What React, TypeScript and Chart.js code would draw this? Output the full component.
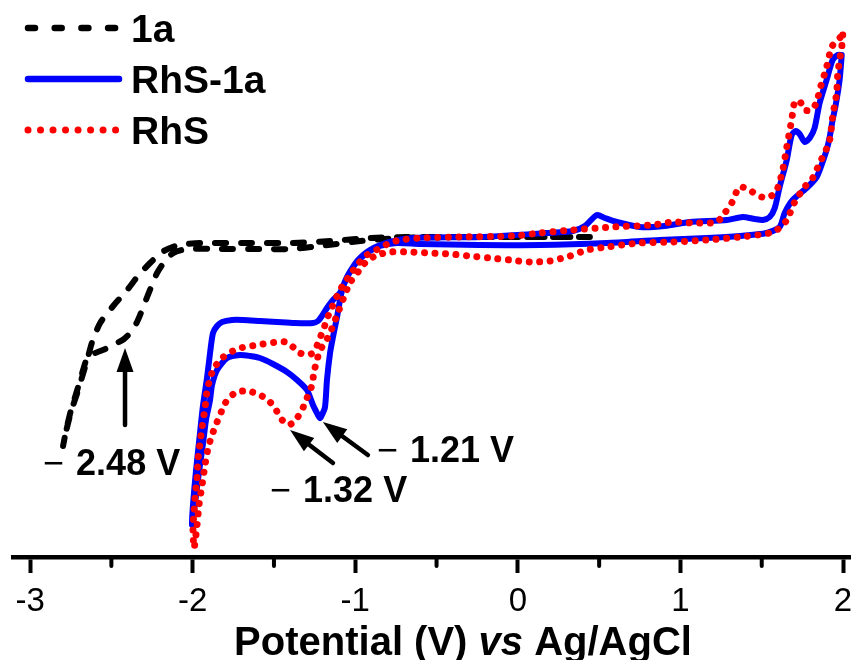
import React, { useEffect, useRef } from 'react';
import { Chart, registerables } from 'chart.js';

Chart.register(...registerables);

// ---------- data ----------
const seriesLabels = ['1a', 'RhS-1a', 'RhS'];
const seriesColors = ['#000000', '#0000ff', '#ff0000'];

// 1a (dashed): cathodic sweep to -2.8 V, then return
const x1a = [0.443, 0.258, -0.234, -0.645, -0.91, -1.155, -1.401, -1.647, -1.955, -2.034, -2.108, -2.188, -2.262, -2.336, -2.403, -2.489, -2.569, -2.618, -2.649, -2.68, -2.71, -2.741, -2.766, -2.784, -2.797,
  -2.778, -2.748, -2.71, -2.674, -2.643, -2.6, -2.538, -2.477, -2.422, -2.379, -2.342, -2.311, -2.28, -2.25, -2.219, -2.17, -2.12, -2.034, -1.832, -1.586, -1.401, -1.217, -0.91, -0.645, -0.234, 0.258, 0.443];
const y1a = [64, 64, 64, 64, 63.8, 63.2, 62.8, 62.8, 62.8, 62.6, 62.2, 61, 58.8, 56.2, 53.4, 50.2, 46.8, 43, 39.4, 36, 32.8, 29.8, 26.8, 24.4, 22.2,
  25.4, 29.4, 33.4, 37.4, 40.2, 40.8, 41.6, 42.6, 43.6, 45, 47, 49.4, 52, 54.4, 56.8, 59.2, 60.8, 61.6, 61.6, 61.6, 61.6, 62.2, 63.4, 63.9, 64, 64, 64];

// RhS-1a (solid)
const xRhS1a = [1.992, 1.979, 1.955, 1.936, 1.918, 1.899, 1.868, 1.838, 1.776, 1.69, 1.641, 1.61, 1.53, 1.364, 1.162, 0.873, 0.547, 0.135, -0.234, -0.602, -0.744, -0.848, -0.928, -1.014, -1.076, -1.112, -1.137, -1.155, -1.174, -1.186, -1.205, -1.217, -1.242, -1.26, -1.297, -1.358, -1.42, -1.506, -1.586, -1.647, -1.709, -1.788, -1.85, -1.881, -1.893, -1.918, -1.936, -1.955, -1.973, -1.991, -2.004,
  -1.998, -1.979, -1.955, -1.936, -1.911, -1.893, -1.875, -1.85, -1.819, -1.758, -1.69, -1.586, -1.481, -1.371, -1.26, -1.229, -1.205, -1.174, -1.137, -1.094, -1.063, -1.033, -0.983, -0.91, -0.787, -0.645, -0.234, 0.178, 0.338, 0.412, 0.486, 0.535, 0.608, 0.75, 0.903, 1.057, 1.285, 1.383, 1.457, 1.506, 1.549, 1.58, 1.61, 1.654, 1.684, 1.709, 1.733, 1.764, 1.795, 1.825, 1.856, 1.899, 1.936, 1.967, 1.992];
const yRhS1a = [100.4, 95.4, 90.4, 87.4, 84, 81.4, 78.4, 76, 73.8, 71.4, 68.8, 66, 64.8, 64.2, 63.8, 63.4, 62.8, 62.4, 62.4, 62.6, 62.8, 62.2, 60.8, 58, 54, 48, 44, 40.8, 35.4, 30, 28.4, 27.8, 29.2, 30.4, 33.4, 35.4, 37, 38.6, 39.8, 40.2, 40.4, 39.8, 37.4, 34.4, 31.4, 27.4, 22.8, 18.4, 14, 9.4, 6.4,
  10.4, 17.4, 24.8, 30.4, 36, 40.8, 44.8, 46.2, 47, 47.4, 47.4, 47.2, 47, 46.8, 46.8, 47.2, 48.2, 49.8, 51.4, 52.8, 55, 57, 59.4, 61.4, 63, 63.8, 64, 64.8, 65.2, 66.2, 68.4, 67.8, 67, 66, 66.2, 67, 67.4, 68, 67.6, 67.4, 68, 69.8, 74, 79.4, 84.4, 85.2, 84.6, 83, 83.8, 85.8, 90.8, 95.4, 99.4, 100.4, 100.4];

// RhS (dotted)
const xRhS = [1.998, 1.992, 1.979, 1.967, 1.961, 1.948, 1.936, 1.918, 1.887, 1.856, 1.813, 1.764, 1.703, 1.654, 1.61, 1.549, 1.364, 1.162, 0.953, 0.75, 0.547, 0.424, 0.32, 0.197, 0.074, -0.049, -0.172, -0.295, -0.418, -0.541, -0.664, -0.787, -0.879, -0.94, -0.983, -1.033, -1.069, -1.1, -1.131, -1.155, -1.186, -1.217, -1.235, -1.254, -1.266, -1.297, -1.328, -1.358, -1.395, -1.426, -1.463, -1.494, -1.537, -1.586, -1.635, -1.69, -1.739, -1.788, -1.819, -1.85, -1.881, -1.905, -1.924, -1.942, -1.961, -1.973, -1.991,
  -1.998, -1.991, -1.985, -1.973, -1.967, -1.955, -1.942, -1.924, -1.911, -1.893, -1.875, -1.819, -1.727, -1.604, -1.481, -1.432, -1.383, -1.34, -1.291, -1.254, -1.229, -1.205, -1.186, -1.162, -1.137, -1.106, -1.076, -1.033, -0.983, -0.928, -0.848, -0.787, -0.725, -0.602, -0.356, -0.031, 0.135, 0.338, 0.584, 0.83, 0.953, 1.076, 1.223, 1.272, 1.315, 1.364, 1.426, 1.469, 1.53, 1.567, 1.598, 1.629, 1.654, 1.684, 1.703, 1.733, 1.764, 1.807, 1.838, 1.856, 1.899, 1.93, 1.967, 1.998];
const yRhS = [104.4, 102, 99.4, 96.4, 92.8, 90.4, 88, 83.4, 80.8, 78.8, 75.8, 74, 71, 67.4, 65.8, 64.8, 64, 63.4, 63, 62.8, 62, 61.4, 60.2, 59.2, 59, 59.4, 59.8, 60.2, 60.6, 60.8, 61, 61, 60.2, 58.8, 57, 54.8, 52, 49.4, 46.8, 44.8, 42.8, 41.4, 39.4, 37, 34.4, 31.8, 29.4, 27.8, 26.6, 26.6, 28, 29.8, 31.4, 32.4, 33, 33.2, 32.8, 31.4, 29.4, 27, 24.4, 21.8, 18.4, 14.4, 10.4, 6.4, 1.8,
  5.4, 9.4, 12, 15.8, 19.4, 22.8, 26, 29.8, 33.4, 35.6, 37.4, 39.8, 41.6, 42.4, 43, 43, 42, 40.8, 40.4, 41, 42.8, 44.8, 46.4, 48.6, 50.4, 52.6, 54.4, 56.4, 58.6, 60.4, 61.8, 62.8, 63.4, 63.8, 64, 64.2, 64.8, 65.4, 66, 66.4, 67, 66.8, 67, 68.8, 70.8, 74, 73.4, 72.4, 71.8, 72.4, 73.8, 77.4, 82, 87.4, 91, 91.2, 89.4, 89.4, 91, 93.4, 98, 102, 103.4, 104.4];

const majorTicks = [-3, -2, -1, 0, 1, 2];
const minorTicks = [-2.5, -1.5, -0.5, 0.5, 1.5];

// peak annotations (data units)
const peakLabels = ['2.48 V', '1.21 V', '1.32 V'];
const peakSign = '\u2212';
const labelX = [-2.717, -0.664, -1.321];
const labelY = [16.4, 19, 11];
const arrowTailX = [-2.416, -0.922, -1.137];
const arrowTailY = [26.4, 20.4, 18.8];
const arrowTipX = [-2.416, -1.199, -1.401];
const arrowTipY = [41.8, 27, 25.4];

const titleParts = ['Potential (V) ', 'vs', ' Ag/AgCl'];

const FONT = '"Liberation Sans", Arial, Helvetica, sans-serif';

function toPoints(xs: number[], ys: number[]) {
  return xs.map((x, i) => ({ x, y: ys[i] }));
}

const legendDashes = [[7, 19.7], [], [0.01, 12.5]];
const legendWidths = [6.5, 6.5, 7];

const legendPlugin = {
  id: 'cvLegend',
  afterDraw(chart: any) {
    const ctx = chart.ctx;
    chart.data.datasets.forEach((ds: any, i: number) => {
      const yLine = 28 + i * 51;
      ctx.save();
      ctx.strokeStyle = ds.borderColor;
      ctx.lineWidth = legendWidths[i];
      ctx.lineCap = 'round';
      ctx.setLineDash(legendDashes[i]);
      ctx.beginPath();
      ctx.moveTo(28, yLine);
      ctx.lineTo(i === 2 ? 116 : 119, yLine);
      ctx.stroke();
      ctx.setLineDash([]);
      ctx.fillStyle = '#000';
      ctx.font = `bold 39px ${FONT}`;
      ctx.textBaseline = 'alphabetic';
      ctx.textAlign = 'left';
      ctx.fillText(ds.label, 131, yLine + 14);
      ctx.restore();
    });
  },
};

function drawArrow(ctx: CanvasRenderingContext2D, x1: number, y1: number, x2: number, y2: number) {
  const ang = Math.atan2(y2 - y1, x2 - x1);
  const headLen = 24;
  const headW = 8.5;
  const c = Math.cos(ang);
  const s = Math.sin(ang);
  const bx = x2 - headLen * c;
  const by = y2 - headLen * s;
  ctx.lineWidth = 4.5;
  ctx.lineCap = 'round';
  ctx.beginPath();
  ctx.moveTo(x1, y1);
  ctx.lineTo(bx + 2 * c, by + 2 * s);
  ctx.stroke();
  ctx.beginPath();
  ctx.moveTo(x2, y2);
  ctx.lineTo(bx - headW * s, by + headW * c);
  ctx.lineTo(bx + headW * s, by - headW * c);
  ctx.closePath();
  ctx.fill();
}

const decorPlugin = {
  id: 'cvDecor',
  afterDraw(chart: any) {
    const ctx = chart.ctx;
    const xs = chart.scales.x;
    const ys = chart.scales.y;
    const area = chart.chartArea;
    ctx.save();
    // minor ticks
    ctx.strokeStyle = '#000';
    ctx.lineWidth = 4;
    ctx.lineCap = 'round';
    minorTicks.forEach((v) => {
      const px = xs.getPixelForValue(v);
      ctx.beginPath();
      ctx.moveTo(px, area.bottom);
      ctx.lineTo(px, area.bottom + 9);
      ctx.stroke();
    });
    // arrows
    ctx.fillStyle = '#000';
    for (let i = 0; i < peakLabels.length; i++) {
      drawArrow(
        ctx,
        xs.getPixelForValue(arrowTailX[i]),
        ys.getPixelForValue(arrowTailY[i]),
        xs.getPixelForValue(arrowTipX[i]),
        ys.getPixelForValue(arrowTipY[i])
      );
    }
    // labels
    ctx.textBaseline = 'alphabetic';
    ctx.textAlign = 'left';
    for (let i = 0; i < peakLabels.length; i++) {
      const px = xs.getPixelForValue(labelX[i]);
      const py = ys.getPixelForValue(labelY[i]);
      ctx.font = `36px ${FONT}`;
      ctx.fillText(peakSign, px - 33, py);
      ctx.font = `bold 36px ${FONT}`;
      ctx.fillText(peakLabels[i], px, py);
    }
    // axis title with italic "vs"
    const fonts = [`bold 40px ${FONT}`, `italic bold 40px ${FONT}`, `bold 40px ${FONT}`];
    const widths = titleParts.map((t, i) => {
      ctx.font = fonts[i];
      return ctx.measureText(t).width;
    });
    const total = widths.reduce((a, b) => a + b, 0);
    let tx = (area.left + area.right) / 2 + 31 - total / 2;
    titleParts.forEach((t, i) => {
      ctx.font = fonts[i];
      ctx.fillText(t, tx, area.bottom + 98);
      tx += widths[i];
    });
    ctx.restore();
  },
};

export default function App() {
  const canvasRef = useRef<HTMLCanvasElement | null>(null);

  useEffect(() => {
    if (!canvasRef.current) return;
    const chart = new Chart(canvasRef.current, {
      type: 'scatter',
      data: {
        datasets: [
          {
            label: seriesLabels[0],
            data: toPoints(x1a, y1a),
            showLine: true,
            borderColor: seriesColors[0],
            backgroundColor: seriesColors[0],
            borderWidth: 6,
            borderDash: [11, 15],
            borderCapStyle: 'round',
            pointRadius: 0,
            tension: 0.25,
            order: 3,
          },
          {
            label: seriesLabels[1],
            data: toPoints(xRhS1a, yRhS1a),
            showLine: true,
            borderColor: seriesColors[1],
            backgroundColor: seriesColors[1],
            borderWidth: 6,
            borderCapStyle: 'round',
            borderJoinStyle: 'round',
            pointRadius: 0,
            tension: 0.25,
            order: 2,
          },
          {
            label: seriesLabels[2],
            data: toPoints(xRhS, yRhS),
            showLine: true,
            borderColor: seriesColors[2],
            backgroundColor: seriesColors[2],
            borderWidth: 7,
            borderDash: [0.01, 10.5],
            borderCapStyle: 'round',
            pointRadius: 0,
            tension: 0.25,
            order: 1,
          },
        ],
      },
      options: {
        animation: false,
        responsive: false,
        events: [],
        layout: { autoPadding: false, padding: { left: 13, right: 0, top: 17, bottom: 0 } },
        plugins: { legend: { display: false }, tooltip: { enabled: false } },
        scales: {
          x: {
            type: 'linear',
            min: -3.105,
            max: 2.049,
            afterFit: (scale: any) => {
              scale.height = 103;
              scale.paddingLeft = 0;
              scale.paddingRight = 0;
            },
            afterBuildTicks: (scale: any) => {
              scale.ticks = majorTicks.map((v) => ({ value: v }));
            },
            border: { display: true, color: '#000', width: 4.5 },
            grid: {
              display: true,
              drawOnChartArea: false,
              drawTicks: true,
              tickLength: 16,
              tickWidth: 4,
              tickColor: '#000',
            },
            ticks: {
              autoSkip: false,
              maxRotation: 0,
              padding: 9,
              color: '#000',
              font: { family: FONT, size: 33 },
              callback: (v: any) => String(v),
            },
          },
          y: {
            type: 'linear',
            display: false,
            min: 0,
            max: 108,
          },
        },
      },
      plugins: [legendPlugin, decorPlugin],
    } as any);
    return () => chart.destroy();
  }, []);

  return (
    <div style={{ position: 'absolute', left: 0, top: 0, width: 851, height: 660 }}>
      <canvas ref={canvasRef} width={851} height={660} style={{ width: 851, height: 660, display: 'block' }} />
    </div>
  );
}
